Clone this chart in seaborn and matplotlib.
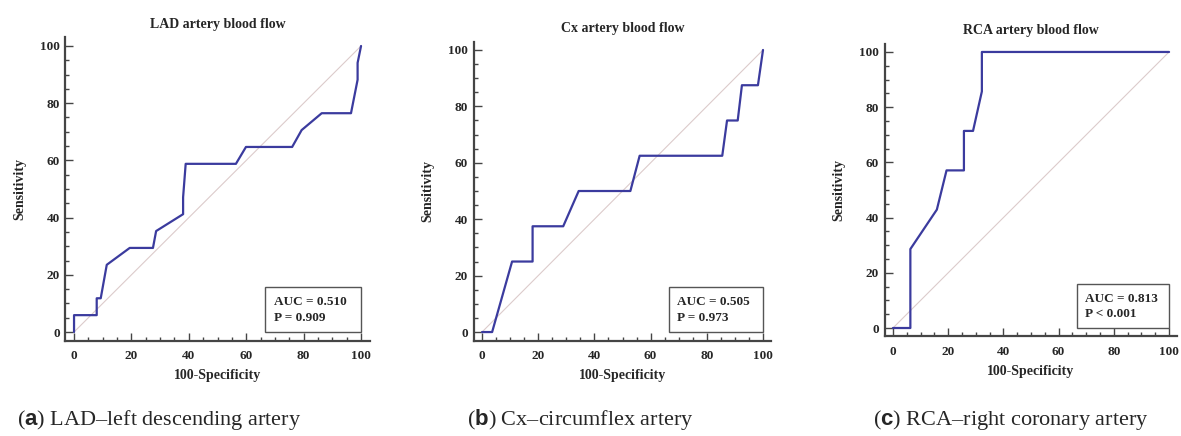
import numpy as np
import pandas as pd
import matplotlib
matplotlib.use("Agg")
import matplotlib.pyplot as plt
import seaborn as sns
from matplotlib.patches import Rectangle
from matplotlib.ticker import MultipleLocator

# ROC curves (100-Specificity, Sensitivity)
lad_fpr = [0, 0, 7.9, 7.9, 9.3, 11.4, 19.4, 27.5, 28.6, 38.0, 38.0, 38.9, 56.4, 59.9, 76.0, 79.3, 86.3, 96.5, 98.8, 98.8, 100]
lad_tpr = [0, 5.9, 5.9, 11.8, 11.8, 23.5, 29.4, 29.4, 35.3, 41.2, 47.1, 58.8, 58.8, 64.7, 64.7, 70.6, 76.5, 76.5, 88.2, 94.1, 100]

cx_fpr = [0, 3.6, 10.7, 18.0, 18.0, 28.9, 34.4, 52.8, 56.1, 85.5, 87.2, 91.0, 92.5, 98.2, 100]
cx_tpr = [0, 0, 25.0, 25.0, 37.5, 37.5, 50.0, 50.0, 62.5, 62.5, 75.0, 75.0, 87.5, 87.5, 100]

rca_fpr = [0, 6.3, 6.3, 15.9, 19.4, 25.7, 25.7, 29.0, 32.2, 32.2, 100]
rca_tpr = [0, 0, 28.6, 42.9, 57.1, 57.1, 71.4, 71.4, 85.7, 100, 100]

titles = ["LAD artery blood flow", "Cx artery blood flow", "RCA artery blood flow"]
auc_values = ["0.510", "0.505", "0.813"]
p_values = ["= 0.909", "= 0.973", "< 0.001"]
letters = ["a", "b", "c"]
captions = ["LAD\u2013left descending artery", "Cx\u2013circumflex artery", "RCA\u2013right coronary artery"]
major_ticks = [0, 20, 40, 60, 80, 100]

sns.set_style("ticks")
plt.rcParams['font.family'] = ['Liberation Serif', 'DejaVu Serif']
plt.rcParams['mathtext.fontset'] = 'custom'
plt.rcParams['mathtext.rm'] = 'Liberation Serif'
plt.rcParams['mathtext.bf'] = 'Liberation Sans:bold'

fig = plt.figure(figsize=(11.81, 4.36), dpi=100)
positions = [
    [0.0554, 0.2188, 0.2576, 0.6954],
    [0.4010, 0.2190, 0.2522, 0.6858],
    [0.7491, 0.2287, 0.2478, 0.6711],
]
curves = [(lad_fpr, lad_tpr), (cx_fpr, cx_tpr), (rca_fpr, rca_tpr)]
caption_x = [0.0144, 0.3955, 0.7392]

line_col = "#3b3b9e"
spine_col = "#454545"

for i, (fpr, tpr) in enumerate(curves):
    ax = fig.add_axes(positions[i])
    df = pd.DataFrame({"fpr": fpr, "tpr": tpr})
    sns.lineplot(x=[0, 100], y=[0, 100], ax=ax, color="#dccbcb", lw=0.8)
    sns.lineplot(data=df, x="fpr", y="tpr", sort=False, estimator=None,
                 ax=ax, color=line_col, lw=1.6)
    ax.set_xlim(-3, 103)
    ax.set_ylim(-3, 103)
    ax.set_xticks(major_ticks)
    ax.set_yticks(major_ticks)
    ax.xaxis.set_minor_locator(MultipleLocator(5))
    ax.yaxis.set_minor_locator(MultipleLocator(5))
    ax.tick_params(which="major", direction="in", length=6, width=1, color=spine_col,
                   labelsize=9.5)
    ax.tick_params(which="minor", direction="in", length=3, width=1, color=spine_col)
    ax.tick_params(axis="x", pad=7)
    ax.tick_params(axis="y", pad=4)
    for lab in ax.get_xticklabels() + ax.get_yticklabels():
        lab.set_fontweight("bold")
    sns.despine(ax=ax)
    for s in ["left", "bottom"]:
        ax.spines[s].set_linewidth(1.6)
        ax.spines[s].set_color(spine_col)
    ax.set_xlabel("100-Specificity", fontweight="bold", fontsize=10, labelpad=5)
    ax.set_ylabel("Sensitivity", fontweight="bold", fontsize=10, labelpad=10)
    ax.set_title(titles[i], fontweight="bold", fontsize=10, pad=7)

    ax.add_patch(Rectangle((66.5, 0), 33.5, 15.8, fill=True, facecolor="white",
                           edgecolor="#555555", lw=1.0, zorder=3))
    ax.text(69.5, 10.6, "AUC = " + auc_values[i], fontweight="bold", fontsize=9.5,
            va="center", ha="left", zorder=4)
    ax.text(69.5, 4.9, "P " + p_values[i], fontweight="bold", fontsize=9.5,
            va="center", ha="left", zorder=4)

    fig.text(caption_x[i], 0.037, r"($\mathbf{" + letters[i] + r"}$) " + captions[i],
             fontsize=16, ha="left", va="center")

fig.savefig("out.png", dpi=100)
